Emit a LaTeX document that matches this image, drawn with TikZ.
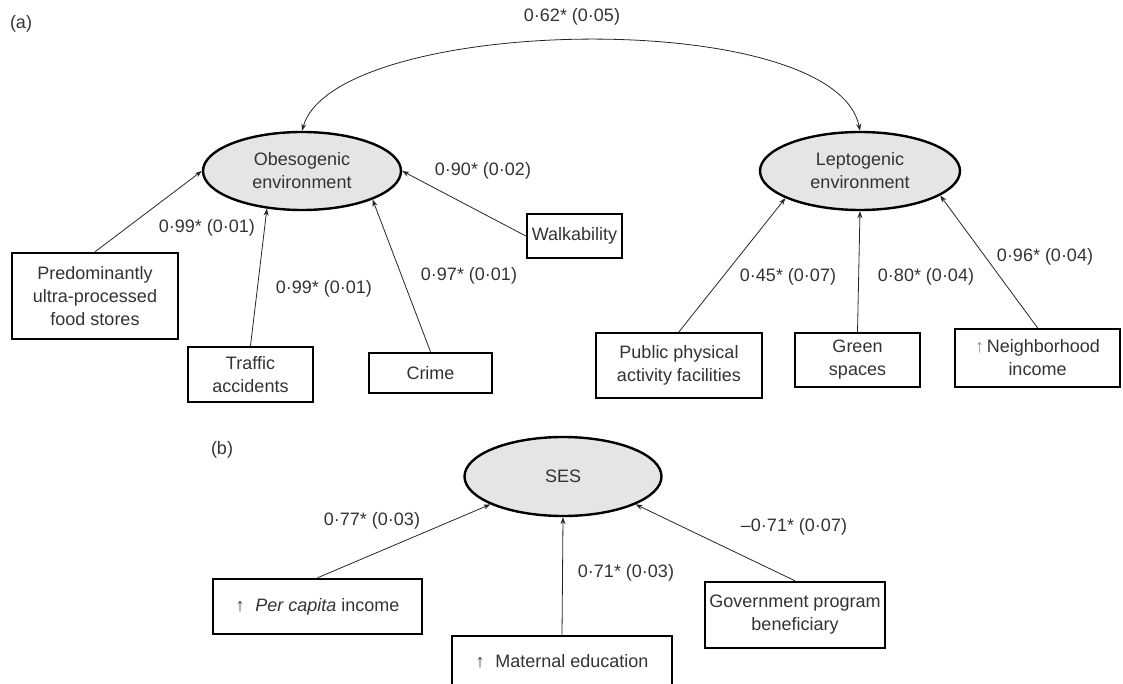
\documentclass[tikz,border=0pt]{standalone}
\usepackage{fontspec}
\setmainfont{Liberation Sans}
\usetikzlibrary{arrows.meta,shapes.geometric}
\begin{document}
\begin{tikzpicture}[x=1pt,y=-1pt,
  every node/.style={font=\fontsize{18}{23}\selectfont, text=black!80},
  lat/.style={ellipse, draw=black, line width=2.4pt, fill=black!10, minimum width=198pt, minimum height=78pt, inner sep=0pt, align=center},
  ind/.style={rectangle, draw=black, line width=2.4pt, fill=white, inner sep=0pt, align=center},
  load/.style={-{Stealth[length=7pt,width=5pt]}, line width=0.8pt, draw=black!85},
  cov/.style={{Stealth[length=7pt,width=5pt]}-{Stealth[length=7pt,width=5pt]}, line width=0.8pt, draw=black!85},
  coef/.style={inner sep=0pt}
]
\useasboundingbox (0,0) rectangle (1123,684);

% panel labels
\node[coef] (pa) at (21,24) {(a)};
\node[coef] (pb) at (222,450) {(b)};

% latent variables
\node[lat] (obes) at (302,171) {Obesogenic\\environment};
\node[lat, minimum width=200pt] (lept) at (860,171) {Leptogenic\\environment};
\node[lat, minimum width=197pt, minimum height=79pt] (ses) at (563,476.5) {SES};

% indicators (a)
\node[ind, minimum width=166pt, minimum height=86pt] (pred) at (95,296) {Predominantly\\ultra-processed\\food stores};
\node[ind, minimum width=125pt, minimum height=55pt] (traffic) at (250.5,374.5) {Traffic\\accidents};
\node[ind, minimum width=123pt, minimum height=40pt] (crime) at (430.5,373) {Crime};
\node[ind, minimum width=95pt, minimum height=44pt] (walk) at (574.5,236) {Walkability};
\node[ind, minimum width=166pt, minimum height=65pt] (public) at (679,365.5) {Public physical\\activity facilities};
\node[ind, minimum width=125pt, minimum height=54pt] (green) at (857.5,360) {Green\\spaces};
\node[ind, minimum width=165pt, minimum height=58pt] (neigh) at (1037.5,358) {{\color{black!45}↑}\hspace{0.15em}Neighborhood\\income};

% indicators (b)
\node[ind, minimum width=209pt, minimum height=55pt] (percap) at (317.5,606.5) {↑\hspace{0.6em}\textit{Per capita} income};
\node[ind, minimum width=220pt, minimum height=50pt] (matern) at (562,661) {↑\hspace{0.6em}Maternal education};
\node[ind, minimum width=180pt, minimum height=66pt] (govt) at (795,615) {Government program\\beneficiary};

% covariance
\draw[cov] (obes.north) .. controls (335,15) and (835,5) .. (lept.north);

% loadings (a)
\draw[load] (pred.north) -- (obes.west);
\draw[load] (traffic.north) -- (obes.227);
\draw[load] (crime.north) -- (obes.338);
\draw[load] (walk.west) -- (obes.east);
\draw[load] (public.north) -- (lept.200);
\draw[load] (green.north) -- (lept.south);
\draw[load] (neigh.north) -- (lept.343);

% loadings (b)
\draw[load] (percap.north) -- (ses.201);
\draw[load] (matern.north) -- (ses.south);
\draw[load] (govt.north) -- (ses.339);

% coefficients
\node[coef] (c62) at (572,17) {0·62* (0·05)};
\node[coef] (c90) at (483,171) {0·90* (0·02)};
\node[coef] (c99a) at (207,228) {0·99* (0·01)};
\node[coef] (c99b) at (324,289) {0·99* (0·01)};
\node[coef] (c97) at (469,276) {0·97* (0·01)};
\node[coef] (c45) at (788,277) {0·45* (0·07)};
\node[coef] (c80) at (926,277) {0·80* (0·04)};
\node[coef] (c96) at (1045,257) {0·96* (0·04)};
\node[coef] (c77) at (372,521) {0·77* (0·03)};
\node[coef] (c71) at (626,573) {0·71* (0·03)};
\node[coef] (cm71) at (794,527) {–0·71* (0·07)};
\end{tikzpicture}
\end{document}
